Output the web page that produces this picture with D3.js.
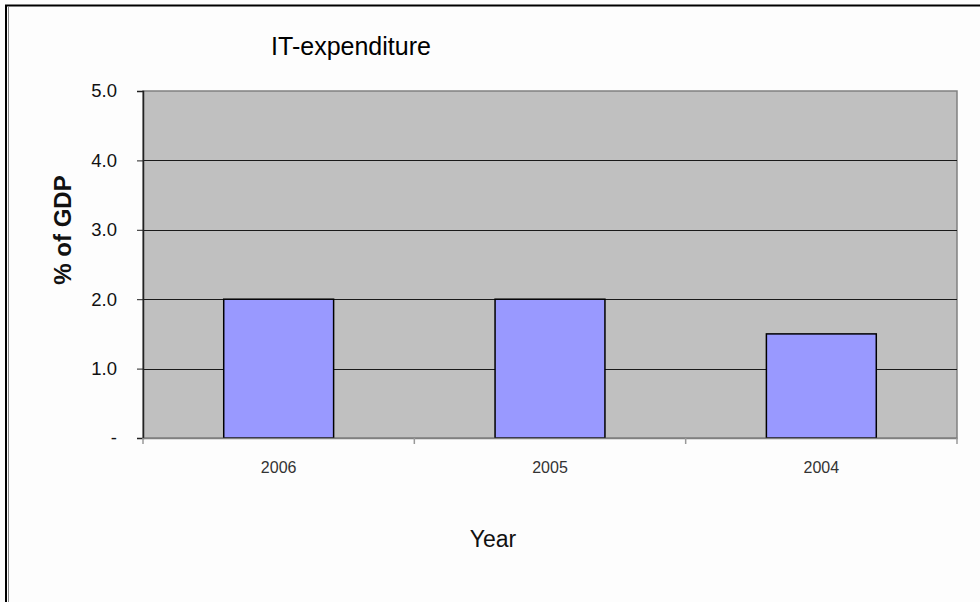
<!DOCTYPE html>
<html>
<head>
<meta charset="utf-8">
<script src="https://cdn.jsdelivr.net/npm/d3@7/dist/d3.min.js"></script>
<style>
  html, body { margin: 0; padding: 0; background: #fdfdfd; }
  svg { display: block; }
  text { font-family: "Liberation Sans", Arial, sans-serif; }
</style>
</head>
<body>
<svg id="chart" width="980" height="602"></svg>
<script>
// IT spending as a share of GDP, by year
const years = ["2006", "2005", "2004"];
const itShare = [2.0, 2.0, 1.5];
const yTicks = [0, 1, 2, 3, 4, 5];
const yTickLabels = ["-", "1.0", "2.0", "3.0", "4.0", "5.0"];

const svg = d3.select("#chart");
const W = 980, H = 602;
const plot = { left: 143, top: 91, right: 957, bottom: 438 };
const FONT = "'Liberation Sans', Arial, sans-serif";

// outer frame
svg.append("rect").attr("x", 0).attr("y", 0).attr("width", W).attr("height", H).attr("fill", "#fdfdfd");
svg.append("line").attr("x1", 5).attr("x2", W).attr("y1", 5.5).attr("y2", 5.5)
  .attr("stroke", "#000").attr("stroke-width", 2);
svg.append("line").attr("x1", 6).attr("x2", 6).attr("y1", 5).attr("y2", H)
  .attr("stroke", "#000").attr("stroke-width", 2);
svg.append("line").attr("x1", 8.5).attr("x2", 8.5).attr("y1", 7).attr("y2", H)
  .attr("stroke", "#888").attr("stroke-width", 1);

const x = d3.scaleBand().domain(years).range([plot.left, plot.right]).paddingInner(0.595).paddingOuter(0.2975);
const y = d3.scaleLinear().domain([0, 5]).range([plot.bottom, plot.top]);

// plot background
svg.append("rect")
  .attr("x", plot.left).attr("y", plot.top)
  .attr("width", plot.right - plot.left).attr("height", plot.bottom - plot.top)
  .attr("fill", "#c0c0c0").attr("stroke", "#808080").attr("stroke-width", 1.5);

// horizontal gridlines
svg.append("g").selectAll("line")
  .data(yTicks.filter(d => d > 0 && d < 5))
  .join("line")
  .attr("x1", plot.left).attr("x2", plot.right)
  .attr("y1", d => Math.round(y(d)) + 0.5).attr("y2", d => Math.round(y(d)) + 0.5)
  .attr("stroke", "#1a1a1a").attr("stroke-width", 1);

// bars
svg.append("g").selectAll("rect")
  .data(years.map((yr, i) => ({ yr, v: itShare[i] })))
  .join("rect")
  .attr("x", d => x(d.yr)).attr("width", x.bandwidth())
  .attr("y", d => y(d.v)).attr("height", d => y(0) - y(d.v))
  .attr("fill", "#9999ff").attr("stroke", "#000").attr("stroke-width", 1.5);

// y axis
const yAxis = d3.axisLeft(y).tickValues(yTicks).tickSize(6)
  .tickFormat((d, i) => yTickLabels[i]).tickPadding(20);
const gy = svg.append("g").attr("transform", `translate(${plot.left},0)`).call(yAxis);
gy.attr("font-size", null).attr("font-family", null);
gy.select(".domain").attr("stroke", "#222").attr("stroke-width", 1.5);
gy.selectAll(".tick line").attr("stroke", "#222");
gy.selectAll(".tick text").style("font-size", "18.5px").attr("fill", "#111")
  .style("font-family", FONT);

// x axis: ticks sit on category boundaries
const xAxis = d3.axisBottom(x).tickSize(0).tickPadding(0);
const gx = svg.append("g").attr("transform", `translate(0,${plot.bottom})`).call(xAxis);
gx.attr("font-size", null).attr("font-family", null);
gx.select(".domain").attr("stroke", "#808080").attr("stroke-width", 1.5);
gx.selectAll(".tick text").style("font-size", "16px").attr("fill", "#333")
  .style("font-family", FONT).attr("dy", null).attr("y", 35);
const bounds = d3.range(years.length + 1).map(i => plot.left + i * (plot.right - plot.left) / years.length);
gx.append("g").selectAll("line").data(bounds).join("line")
  .attr("x1", d => d).attr("x2", d => d).attr("y1", 0).attr("y2", 6)
  .attr("stroke", "#999").attr("stroke-width", 1.5);

// titles
svg.append("text").attr("x", 351).attr("y", 55).attr("text-anchor", "middle")
  .style("font-size", "25px").attr("fill", "#000").text("IT-expenditure");
svg.append("text").attr("transform", "translate(71,230) rotate(-90)")
  .attr("text-anchor", "middle").style("font-size", "24px").attr("font-weight", "bold")
  .attr("fill", "#111").text("% of GDP");
svg.append("text").attr("x", 493).attr("y", 547).attr("text-anchor", "middle")
  .style("font-size", "23px").attr("fill", "#111").text("Year");
</script>
</body>
</html>
